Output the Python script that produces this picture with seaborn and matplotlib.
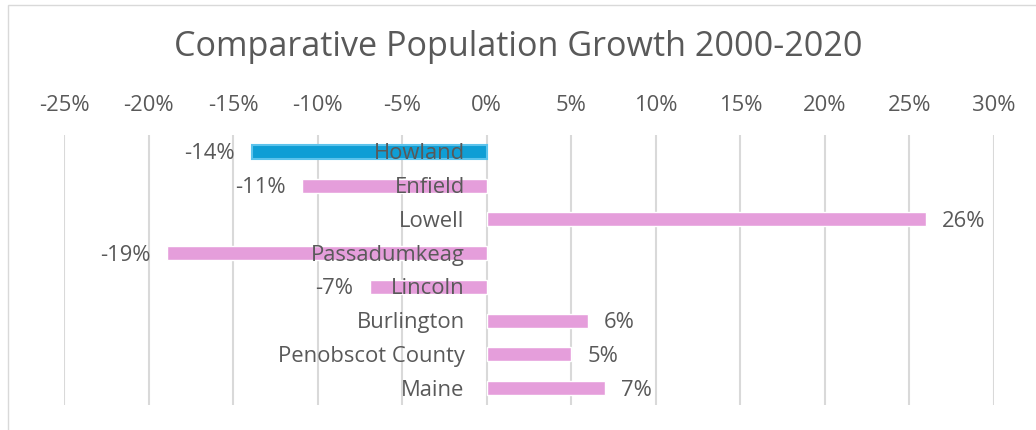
import matplotlib
matplotlib.use("Agg")
import matplotlib.pyplot as plt
import seaborn as sns
from matplotlib.ticker import FuncFormatter, MultipleLocator
from matplotlib.patches import Rectangle

categories = ["Howland", "Enfield", "Lowell", "Passadumkeag", "Lincoln",
              "Burlington", "Penobscot County", "Maine"]
growth = [-13.9, -10.9, 26.0, -18.9, -6.9, 6.0, 5.0, 7.0]
value_labels = ["-14%", "-11%", "26%", "-19%", "-7%", "6%", "5%", "7%"]
tick_values = [-25, -20, -15, -10, -5, 0, 5, 10, 15, 20, 25, 30]

pink = "#e59edb"
blue = "#0f9ed5"
colors = [blue] + [pink] * (len(categories) - 1)

sns.set_theme(style="white")
plt.rcParams['font.family'] = ['Open Sans', 'DejaVu Sans']
text_color = "#595959"
fs = 15.8

fig = plt.figure(figsize=(10.36, 4.30), dpi=100)
ax = fig.add_axes([64/1036, 1-405/430, (994-64)/1036, (405-135)/430])

sns.barplot(x=growth, y=categories, hue=categories, palette=colors,
            saturation=1, legend=False, orient="h", width=0.42, ax=ax, zorder=3)

# Howland highlight outline
ax.patches[0].set_edgecolor("#5cc3ec")
ax.patches[0].set_linewidth(1.5)

ax.set_xlim(tick_values[0], tick_values[-1])
ax.set_ylim(len(categories) - 0.5, -0.5)
ax.xaxis.set_major_locator(MultipleLocator(5))
ax.xaxis.set_major_formatter(FuncFormatter(lambda v, p: f"{v:.0f}%"))
ax.xaxis.tick_top()
ax.tick_params(axis="x", length=0, pad=14, labelsize=fs, labelcolor=text_color)
ax.set_yticks([])
ax.set_xlabel("")
ax.set_ylabel("")
ax.grid(axis="x", color="#d9d9d9", linewidth=1.5, zorder=0)
for s in ax.spines.values():
    s.set_visible(False)

for i, (cat, val, lab) in enumerate(zip(categories, growth, value_labels)):
    ax.annotate(cat, xy=(0, i), xytext=(-22, -2), textcoords="offset pixels",
                ha="right", va="center", fontsize=fs, color=text_color, zorder=5)
    if val < 0:
        ax.annotate(lab, xy=(val, i), xytext=(-17, -2), textcoords="offset pixels",
                    ha="right", va="center", fontsize=fs, color=text_color, zorder=5)
    else:
        ax.annotate(lab, xy=(val, i), xytext=(16, -2), textcoords="offset pixels",
                    ha="left", va="center", fontsize=fs, color=text_color, zorder=5)

fig.text(0.5, 1-47/430, "Comparative Population Growth 2000-2020",
         ha="center", va="center", fontsize=24.6, color=text_color)

fig.patches.append(Rectangle((8/1036, -0.01), 1.02, 1 - 5/430 + 0.01,
                             transform=fig.transFigure, fill=False,
                             edgecolor="#d9d9d9", linewidth=1))

fig.savefig("out.png", dpi=100)
